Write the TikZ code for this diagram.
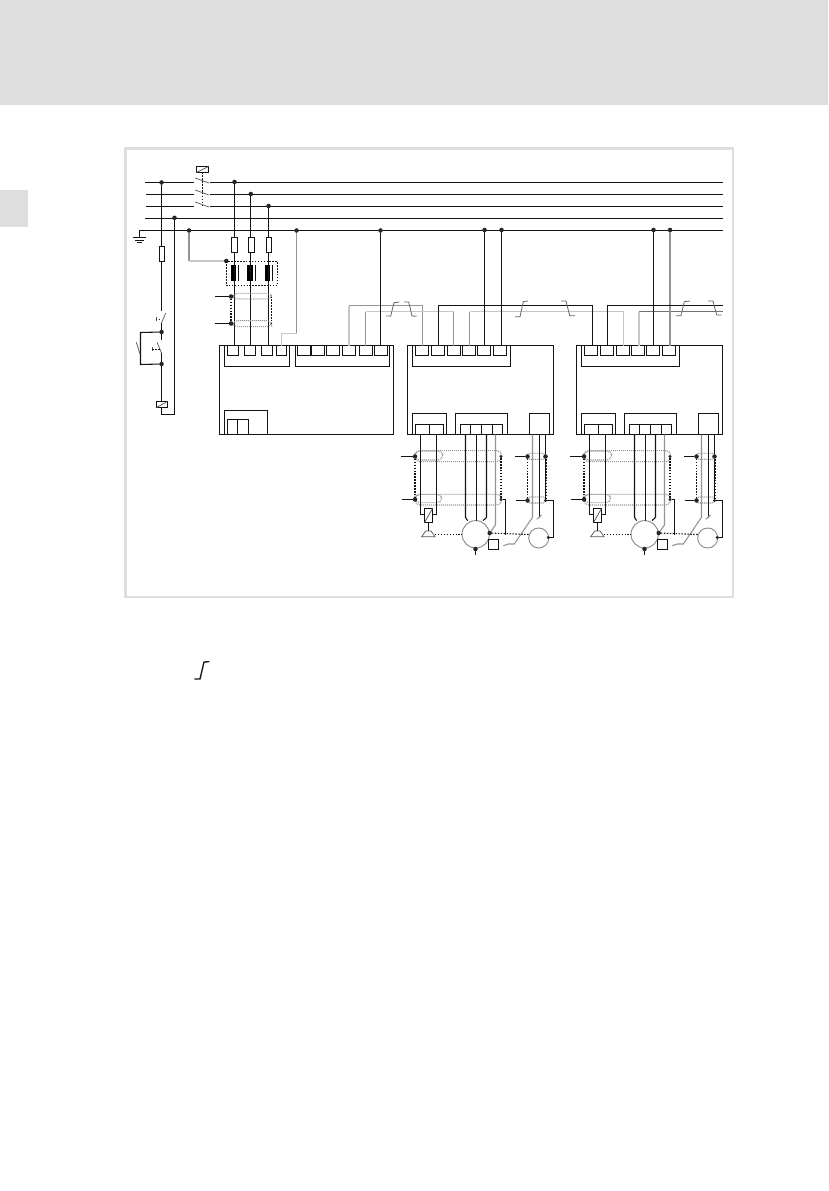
\documentclass[tikz,border=0pt]{standalone}
\tikzset{
 wire/.style={line width=0.8pt,black!92},
 thinw/.style={line width=0.55pt,black!65},
 gl/.style={line width=1.1pt,black!22},
 gm/.style={line width=0.8pt,black!42},
 blk/.style={draw=black!92,line width=0.75pt,inner sep=0pt,outer sep=0pt},
 solidblk/.style={fill=black,inner sep=0pt,outer sep=0pt},
 coilbox/.style={draw=black!92,line width=0.7pt,inner sep=0pt,outer sep=0pt,fill=white},
 dotj/.style={circle,fill=black!85,inner sep=0pt,outer sep=0pt,minimum size=3.4pt},
 dotk/.style={circle,fill=black!85,inner sep=0pt,outer sep=0pt,minimum size=2.6pt},
 dotw/.style={line width=0.8pt,black!92,dash pattern=on 1.1pt off 1.1pt},
 tube/.style={line width=0.8pt,black!40,dash pattern=on 0.8pt off 0.7pt,rounded corners=3.5pt},
 motor/.style={circle,draw=black!45,line width=0.7pt,inner sep=0pt,outer sep=0pt},
 flag/.style={line width=0.6pt,black!60},
}
\newcommand{\bx}[6]{\pgfmathsetmacro{\bw}{(#4-#2)*0.75}\pgfmathsetmacro{\bh}{(#5-#3)*0.75}\node[#6,minimum width=\bw pt,minimum height=\bh pt,anchor=north west] (#1) at (#2,#3) {};}
\newcommand{\drive}[2]{%
\begin{scope}[shift={(#2,0)},name prefix=#1-]
 \bx{body}{407.5}{345.5}{553.5}{434.5}{blk}
 \bx{top}{412.5}{345.5}{510.5}{366.5}{blk}
 \bx{t1}{415.5}{345.5}{428.5}{355.5}{blk}
 \bx{t2}{431.5}{345.5}{444.5}{355.5}{blk}
 \bx{t3}{447.5}{345.5}{460.5}{355.5}{blk}
 \bx{t4}{462.5}{345.5}{475.5}{355.5}{blk}
 \bx{t5}{477.5}{345.5}{490.5}{355.5}{blk}
 \bx{t6}{493.5}{345.5}{506.5}{355.5}{blk}
 \bx{a}{412.5}{413.5}{446.5}{434.5}{blk}
 \bx{a1}{415.5}{424.5}{429.5}{434.5}{blk}
 \bx{a2}{429.5}{424.5}{443.5}{434.5}{blk}
 \bx{b}{455.5}{413.5}{507.5}{434.5}{blk}
 \bx{b1}{460.5}{424.5}{470.5}{434.5}{blk}
 \bx{b2}{470.5}{424.5}{481.5}{434.5}{blk}
 \bx{b3}{481.5}{424.5}{492.5}{434.5}{blk}
 \bx{b4}{492.5}{424.5}{502.5}{434.5}{blk}
 \bx{c}{529.5}{413.5}{549.5}{434.5}{blk}
 % shield tubes
 \draw[tube] (415,451) rectangle (442.7,460);
 \draw[tube] (415,450.7) rectangle (501.7,461.7);
 \draw[tube] (415,494.3) rectangle (441.7,502.7);
 \draw[tube] (415,494.3) rectangle (501.7,505);
 \draw[tube,rounded corners=2pt] (527.3,453.3) rectangle (545.7,459.3);
 \draw[tube,rounded corners=2pt] (527.3,497) rectangle (545.7,503);
 % shield junctions
 \node[dotj] (s1) at (415,456.5) {};
 \node[dotj] (s2) at (415,499.5) {};
 \node[dotk] (s3) at (501,456.5) {};
 \node[dotk] (s4) at (501,499.5) {};
 \node[dotj] (s5) at (527.5,456.5) {};
 \node[dotj] (s6) at (527.5,500.5) {};
 \node[dotj] (s7) at (545.5,456.5) {};
 \node[dotk] (s8) at (545.5,500.5) {};
 \coordinate (l1) at (401,456.5);
 \coordinate (l2) at (401.7,499.5);
 \coordinate (l3) at (515,456.5);
 \coordinate (l4) at (515.7,500.5);
 \draw[wire] (l1) -- (s1);
 \draw[wire] (l2) -- (s2);
 \draw[wire] (l3) -- (s5);
 \draw[wire] (l4) -- (s6);
 \draw[dotw] (s1) -- (s2);
 \draw[dotw] (s3) -- (s4);
 \draw[dotw] (s5) -- (s6);
 \draw[dotw] (546.5,456.5) -- (546.5,500.5);
 % motor, encoder, brake
 \node[motor,minimum size=20.5pt] (m) at (475.7,534.3) {};
 \node[motor,minimum size=15pt] (e) at (538.7,538) {};
 \bx{coil}{424.5}{508.5}{432.5}{522.5}{coilbox}
 \draw[thinw] (coil.south west) -- (coil.north east);
 \draw[thinw] (421.7,536.7) -- (425.7,531) -- (431,531) -- (435,536.7) -- cycle;
 \coordinate (br) at (428.5,531);
 \draw[wire] (coil.south) -- (br);
 \bx{sq}{488.5}{539.5}{498.5}{549.5}{blk}
 \node[dotj] (mp) at (489.7,533) {};
 \node[dotj] (mb) at (475.5,549) {};
 \node[dotk] (ep) at (548.3,537.5) {};
 \coordinate (me) at (475.5,555);
 \draw[wire] (mb) -- (me);
 % wires to coil
 \draw[wire] (420.5,434.5) -- (420.5,514.5) -- (coil.west |- 0,514.5);
 \draw[wire] (436.5,434.5) -- (436.5,514.5) -- (coil.east |- 0,514.5);
 % wires to motor
 \draw[wire] (465.5,434.5) -- (465.5,517.3) -- (467.7,520.7);
 \draw[wire] (476.5,434.5) -- (476.5,520.8);
 \draw[wire] (486.5,434.5) -- (486.5,517.3) -- (483,520.7);
 \draw[gm] (495.5,434.5) -- (495.5,525) -- (mp);
 % resolver
 \draw[gm] (532.5,434.5) -- (532.5,517.3) -- (514.3,544) -- (508.3,544) -- (503.3,545.7);
 \draw[wire] (539.5,434.5) -- (539.5,518);
 \draw[gm] (536.7,519.3) -- (541.7,515);
 \draw[wire] (545.5,434.5) -- (s7);
 \draw[wire] (s7) -- (s8);
 \draw[wire] (s8) -- (553.5,500.5) -- (553.5,537.5) -- (ep);
 % PE / brake links
 \draw[wire] (s4) -- (505.5,499.5) -- (505.5,534.5);
 \draw[dotw] (435,534.5) -- (m.west |- 0,534.5);
 \draw[dotw] (mp) -- (e.west |- 0,534.5);
\end{scope}}
\begin{document}
\begin{tikzpicture}[x=0.75pt,y=-0.75pt]
\useasboundingbox (0,0) rectangle (828,1191);
\fill[white] (0,0) rectangle (828,1191);
\fill[black!13] (0,0) rectangle (828,105);
\fill[black!13] (0,190) rectangle (28,227);
\draw[black!13,line width=1.9pt] (125.5,148.5) rectangle (733,597);
% buses
\coordinate (b1a) at (145,182.5); \coordinate (b1b) at (194,182.5); \coordinate (b1c) at (210,182.5); \coordinate (b1d) at (723,182.5);
\coordinate (b2a) at (146,194.5); \coordinate (b2b) at (194,194.5); \coordinate (b2c) at (210,194.5); \coordinate (b2d) at (723,194.5);
\coordinate (b3a) at (146,206.5); \coordinate (b3b) at (194,206.5); \coordinate (b3c) at (210,206.5); \coordinate (b3d) at (723,206.5);
\coordinate (b4a) at (145,218.5); \coordinate (b4d) at (723,218.5);
\coordinate (pea) at (139.5,230.5); \coordinate (ped) at (723,230.5);
\coordinate (gnd) at (139.5,237.5);
\draw[wire] (b1a)--(b1b) (b1c)--(b1d) (b2a)--(b2b) (b2c)--(b2d) (b3a)--(b3b) (b3c)--(b3d) (b4a)--(b4d);
\draw[wire] (ped)--(pea)--(gnd);
\draw[wire] (133,237.5)--(145.5,237.5);
\draw[wire,line width=0.7pt] (135,240.5)--(143.5,240.5);
\draw[wire,line width=0.7pt] (137,242.5)--(141.5,242.5);
% main contactor
\bx{k1}{196.5}{166.5}{208.5}{172.5}{coilbox}
\draw[thinw] (k1.south west)--(k1.north east);
\draw[thinw] (195,178)--(209,183) (195,190)--(209,195) (195,202)--(209,207);
\coordinate (k1e) at (202.5,205);
\draw[dotw] (202.5,172.5) -- (k1e);
% junctions
\node[dotj] (jL) at (161.5,182.5) {};
\node[dotj] (jN) at (174.5,217.8) {};
\node[dotj] (jP) at (189,230.5) {};
\node[dotj] (jA) at (234.5,182) {};
\node[dotj] (jB) at (250.8,194) {};
\node[dotj] (jC) at (268.5,206) {};
\node[dotj] (jD) at (296.5,230.5) {};
\node[dotj] (jE) at (380.5,230.5) {};
\node[dotj] (jF) at (484.5,230) {};
\node[dotj] (jG) at (501.5,230) {};
\node[dotj] (jH) at (653.5,230) {};
\node[dotj] (jI) at (670,230) {};
\node[dotj] (jS) at (226.3,261) {};
% control branch
\bx{f0}{159.5}{246.5}{164.5}{261.5}{coilbox}
\node[dotj] (c1) at (161.5,332) {};
\node[dotj] (c2) at (161.5,364) {};
\bx{k0}{156.5}{401.5}{167.5}{407.5}{coilbox}
\draw[thinw] (k0.south west)--(k0.north east);
\draw[wire] (jL) -- (jL |- f0.north);
\draw[wire] (jL |- f0.south) -- (161.5,311);
\draw[thinw] (161.5,323)--(165.7,313);
\draw[wire] (161.5,323) -- (c1);
\draw[thinw] (156,317.3)--(156,321.3);
\draw[dotw,line width=0.6pt] (156,319.5)--(161,319.5);
\draw[wire] (c1) -- (140.5,332.5) -- (140.5,364.5) -- (c2);
\draw[thinw] (136.3,342.3)--(140,354);
\draw[wire] (c1) -- (161.5,340);
\draw[thinw] (157,342.3)--(161.5,353);
\draw[thinw] (152.3,347)--(152.3,351);
\draw[dotw,line width=0.6pt] (152.3,349)--(160,349);
\draw[wire] (161.5,353) -- (c2);
\draw[wire] (c2) -- (c2 |- k0.north);
\draw[wire] (c2 |- k0.south) -- (161.5,414.5) -- (174.5,414.5) -- (jN);
% fuses
\bx{fa}{231.5}{237.5}{237.5}{252.5}{coilbox}
\bx{fb}{248.5}{237.5}{254.5}{252.5}{coilbox}
\bx{fc}{266.5}{237.5}{271.5}{252.5}{coilbox}
% choke
\bx{ca}{231}{265}{236}{281}{solidblk}
\bx{cb}{247}{265}{253}{281}{solidblk}
\bx{cc}{265}{265}{270.3}{281}{solidblk}
\draw[wire] (238.5,265)--(238.5,281) (255.5,265)--(255.5,281) (272.5,265)--(272.5,281);
\draw[dotw] (226.5,261.5) rectangle (277.5,285.5);
% block 1
\bx{body1}{219.5}{345.5}{393.5}{434.5}{blk}
\bx{top1}{224.5}{345.5}{289.5}{366.5}{blk}
\bx{top2}{295.5}{345.5}{389.5}{366.5}{blk}
\bx{t1}{227.5}{345.5}{238.5}{355.5}{blk}
\bx{t2}{244.5}{345.5}{255.5}{355.5}{blk}
\bx{t3}{261.5}{345.5}{272.5}{355.5}{blk}
\bx{t4}{276.5}{345.5}{286.5}{355.5}{blk}
\bx{u1}{297.5}{345.5}{310.5}{355.5}{blk}
\bx{u2}{311.5}{345.5}{324.5}{355.5}{blk}
\bx{u3}{326.5}{345.5}{339.5}{355.5}{blk}
\bx{u4}{342.5}{345.5}{355.5}{355.5}{blk}
\bx{u5}{359.5}{345.5}{372.5}{355.5}{blk}
\bx{u6}{374.5}{345.5}{387.5}{355.5}{blk}
\bx{low}{224.5}{410.5}{267.5}{434.5}{blk}
\bx{low1}{227.5}{419.5}{237.5}{434.5}{blk}
\bx{low2}{237.5}{419.5}{248.5}{434.5}{blk}
% drives
\drive{B}{0}
\drive{C}{169}
% gray wiring
\draw[gm] (jP) -- (189,261);
\draw[gl] (189,261) -- (jS);
\draw[gm] (jD) -- (296.5,333.5);
\draw[gl] (296.5,333.5) -- (281.5,333.5) -- (281.5,345.5);
\draw[gl] (349,345.5) -- (349,305.5);
\draw[gm] (349,305.5) -- (422.5,305.5) -- (422.5,345.5);
\draw[gm] (365.5,345.5) -- (365.5,311.5);
\draw[gl] (365.5,311.5) -- (453.5,311.5);
\draw[gm] (453.5,311.5) -- (453.5,345.5);
\draw[gm] (469.5,345.5) -- (469.5,311.5);
\draw[gl] (469.5,311.5) -- (623.5,311.5) -- (623.5,345.5);
\draw[gl] (639,345.5) -- (639,311.5);
\draw[gm,black!55] (639,311.5) -- (723,311.5);
\draw[gm] (jI) -- (670,345.5);
% black wiring
\draw[wire] (jA) -- (jA |- fa.north) (jA |- fa.south) -- (jA |- t1.north);
\draw[wire] (250.5,194) -- (250.5,237.5) (250.5,252.5) -- (250.5,345.5);
\draw[wire] (jC) -- (jC |- fc.north) (jC |- fc.south) -- (268.5,345.5);
\draw[wire] (jE) -- (jE |- u6.north);
\draw[wire] (jF) -- (jF |- B-t5.north);
\draw[wire] (jG) -- (jG |- B-t6.north);
\draw[wire] (jH) -- (jH |- C-t5.north);
\draw[wire] (438.5,345.5) -- (438.5,305.5) -- (592.5,305.5) -- (592.5,345.5);
\draw[wire] (607.5,345.5) -- (607.5,305.5) -- (723,305.5);
% contact symbols
\draw[flag] (386,316)--(390.7,316)--(394,302.7)--(399.3,302);
\draw[flag] (404,302)--(408.7,302)--(412,316)--(416.7,316.3);
\draw[flag] (515,316.7)--(520,316.7)--(523.3,301.7)--(528,301);
\draw[flag] (561,301)--(566,301)--(569.7,315.7)--(575,315.7);
\draw[flag] (676,315.7)--(681,315.7)--(684.3,301.7)--(690,301);
\draw[flag] (708,301)--(713,301)--(716.7,315)--(721.7,315);
% line filter shield
\draw[tube] (232.7,293.3) rectangle (271.7,299);
\draw[tube] (232.7,320.7) rectangle (271.7,326.7);
\node[dotj] (sa) at (231,296.5) {};
\node[dotj] (sb) at (231,323.5) {};
\coordinate (sc) at (215,296.5);
\coordinate (sd) at (215,323.5);
\draw[wire] (sc) -- (sa);
\draw[wire] (sd) -- (sb);
\draw[dotw] (sa) -- (sb);
\draw[dotw] (271.5,296.5) -- (271.5,323.5);
% step symbol below
\coordinate (q1) at (194.3,679);
\coordinate (q2) at (200,679);
\coordinate (q3) at (204,662);
\coordinate (q4) at (209.3,661.7);
\draw[wire,line width=1pt] (q1)--(q2)--(q3)--(q4);
\end{tikzpicture}
\end{document}
